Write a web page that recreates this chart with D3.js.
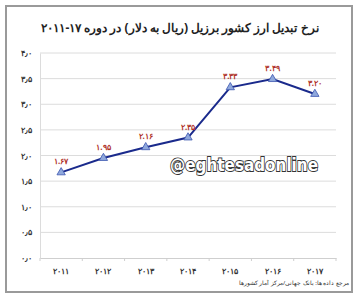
<!DOCTYPE html>
<html>
<head>
<meta charset="utf-8">
<script src="https://cdn.jsdelivr.net/npm/d3@7"></script>
<style>
 body { margin: 0; background: #fff; }
 svg { display: block; }
</style>
</head>
<body>
<svg width="360" height="300"></svg>
<script>
var years = ["2011", "2012", "2013", "2014", "2015", "2016", "2017"];
var rates = [1.67, 1.95, 2.16, 2.35, 3.33, 3.49, 3.20];
var yTicks = [0, 0.5, 1, 1.5, 2, 2.5, 3, 3.5, 4];

var fa = function(s) { return String(s).replace(/[0-9]/g, function(c) { return "۰۱۲۳۴۵۶۷۸۹"[+c]; }); };

var svg = d3.select("svg");

// frame
svg.append("rect")
   .attr("x", 6).attr("y", 6).attr("width", 346).attr("height", 286)
   .attr("fill", "#fff").attr("stroke", "#9a9a9a").attr("stroke-width", 2);

svg.append("text")
   .attr("x", 180).attr("y", 32)
   .attr("text-anchor", "middle")
   .attr("direction", "rtl")
   .style("font", "bold 12px 'Noto Sans', sans-serif")
   .attr("fill", "#222")
   .text("نرخ تبدیل ارز کشور برزیل (ریال به دلار)  در دوره " + fa("17-2011"));

var x = d3.scaleBand().domain(years).range([40, 336]),
   y = d3.scaleLinear().domain([0, 4]).range([258, 53]);

// grid
svg.append("g")
   .selectAll("line")
   .data(yTicks.slice(1))
   .enter().append("line")
     .attr("x1", 40).attr("x2", 336)
     .attr("y1", function(d) { return y(d); })
     .attr("y2", function(d) { return y(d); })
     .attr("stroke", "#dcdcdc");

var yAxis = svg.append("g")
   .attr("transform", "translate(40,0)")
   .call(d3.axisLeft(y).tickValues(yTicks).tickSize(0).tickPadding(8)
     .tickFormat(function(d) { return fa(d3.format(".1f")(d)).replace(".", "٫"); }));
yAxis.select(".domain").attr("stroke", "#dcdcdc");
yAxis.selectAll("text").style("font", "bold 8px 'Noto Sans', sans-serif").attr("fill", "#333");

var xAxis = svg.append("g")
   .attr("transform", "translate(0,258)")
   .call(d3.axisBottom(x).tickSize(0).tickPadding(10).tickFormat(fa));
xAxis.select(".domain").attr("stroke", "#cfcfcf");
xAxis.selectAll("text").style("font", "bold 8px 'Noto Sans', sans-serif").attr("fill", "#333");
xAxis.selectAll(".bt")
   .data(years.concat(["end"]))
   .enter().append("line")
     .attr("class", "bt")
     .attr("x1", function(d, i) { return 40 + i * x.step(); })
     .attr("x2", function(d, i) { return 40 + i * x.step(); })
     .attr("y1", 0).attr("y2", 3)
     .attr("stroke", "#cfcfcf");

var cx = function(d, i) { return x(years[i]) + x.bandwidth() / 2; };

var line = d3.line()
   .x(cx)
   .y(function(d) { return y(d); });

svg.append("path")
   .datum(rates)
   .attr("d", line)
   .attr("fill", "none")
   .attr("stroke", "#1a2a8c")
   .attr("stroke-width", 2);

svg.selectAll(".pt")
   .data(rates)
   .enter().append("path")
     .attr("class", "pt")
     .attr("d", d3.symbol().type(d3.symbolTriangle).size(30))
     .attr("transform", function(d, i) { return "translate(" + cx(d, i) + "," + y(d) + ")"; })
     .attr("fill", "#8fa8dc")
     .attr("stroke", "#3b56b0")
     .attr("stroke-width", 0.8);

svg.selectAll(".lbl")
   .data(rates)
   .enter().append("text")
     .attr("class", "lbl")
     .attr("x", cx)
     .attr("y", function(d) { return y(d) - 8; })
     .attr("text-anchor", "middle")
     .style("font", "bold 8px 'Noto Sans', sans-serif")
     .attr("fill", "#b0332a")
     .text(function(d) { return fa(d3.format(".2f")(d)); });

// watermark
svg.append("text")
   .attr("x", 170).attr("y", 171)
   .attr("textLength", 148)
   .attr("lengthAdjust", "spacingAndGlyphs")
   .style("font", "bold 18px 'DejaVu Sans', sans-serif")
   .attr("fill", "#fff")
   .attr("stroke", "#333")
   .attr("stroke-width", 1.8)
   .attr("paint-order", "stroke")
   .text("@eghtesadonline");

svg.append("text")
   .attr("x", 349).attr("y", 285)
   .attr("text-anchor", "start")
   .attr("direction", "rtl")
   .style("font", "6px 'Noto Sans', sans-serif")
   .attr("fill", "#333")
   .text("مرجع داده ها: بانک جهانی/مرکز آمار کشورها");
</script>
</body>
</html>
